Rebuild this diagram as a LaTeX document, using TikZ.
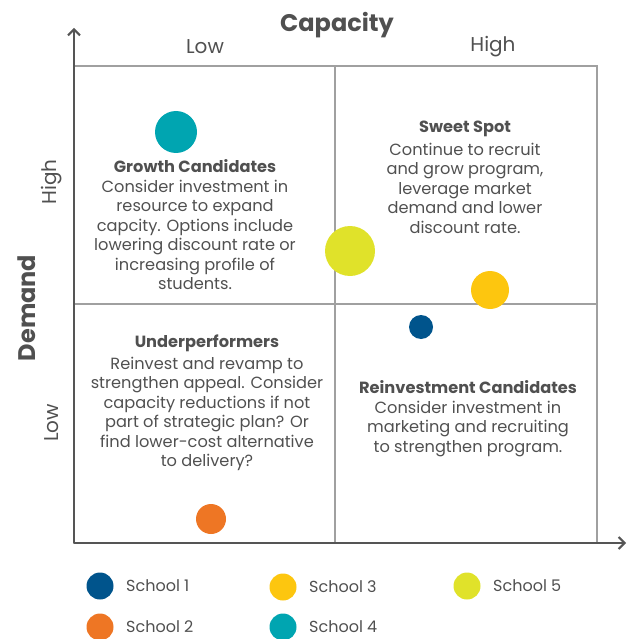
\documentclass[tikz,border=0pt]{standalone}
\usepackage{fontspec}
\setmainfont{Poppins}
\usetikzlibrary{arrows.meta}

\definecolor{schoolone}{RGB}{0,84,140}
\definecolor{schooltwo}{RGB}{238,118,36}
\definecolor{schoolthree}{RGB}{253,198,15}
\definecolor{schoolfour}{RGB}{0,165,177}
\definecolor{schoolfive}{RGB}{224,226,42}
\definecolor{axisgray}{RGB}{85,85,85}
\definecolor{gridgray}{RGB}{160,160,160}
\definecolor{textgray}{RGB}{80,80,80}

\tikzset{
  axis/.style={draw=axisgray, line width=2pt, -{Straight Barb[length=6pt,width=12pt]}},
  grid line/.style={draw=gridgray, line width=1.3pt},
  head/.style={text=textgray, font=\fontsize{16.2}{19}\selectfont\bfseries, inner sep=0pt},
  body/.style={text=textgray, align=center, font=\fontsize{16.2}{19.4}\selectfont, inner sep=0pt, anchor=north},
  tick/.style={text=textgray, font=\fontsize{20}{23}\selectfont, inner sep=0pt},
  dot/.style={circle, inner sep=0pt, minimum size=#1},
  key/.style={text=textgray, font=\fontsize{16}{19}\selectfont, inner sep=0pt, anchor=west}
}

\begin{document}
\begin{tikzpicture}[x=1pt, y=-1pt]
  \useasboundingbox (0,0) rectangle (632,639);

  % quadrant grid
  \draw [grid line] (74,66) rectangle (597,543);
  \draw [grid line] (335,66) -- (335,543);
  \draw [grid line] (74,304) -- (597,304);

  % axes
  \coordinate (origin) at (74,543);
  \coordinate (ytip) at (74,28);
  \coordinate (xtip) at (626,543);
  \draw [axis] (origin) -- (ytip);
  \draw [axis] (origin) -- (xtip);

  % axis labels
  \node [tick, font=\fontsize{24}{28}\selectfont\bfseries] (capacity) at (337,25) {Capacity};
  \node [tick] (caplow) at (205,47) {Low};
  \node [tick] (caphigh) at (493,47) {High};
  \node [tick, rotate=90, font=\fontsize{24}{28}\selectfont\bfseries] (demand) at (27,308) {Demand};
  \node [tick, rotate=90] (demhigh) at (52,182) {High};
  \node [tick, rotate=90] (demlow) at (52,423) {Low};

  % quadrant texts
  \node [head] (growth) at (195,166) {Growth Candidates};
  \node [body] (growthtxt) at (195,180) {Consider investment in\\resource to expand\\capcity. Options include\\lowering discount rate or\\increasing profile of\\students.};

  \node [head] (sweet) at (465,129) {Sweet Spot};
  \node [body] (sweettxt) at (465,143) {Continue to recruit\\and grow program,\\leverage market\\demand and lower\\discount rate.};

  \node [head] (under) at (207,343) {Underperformers};
  \node [body] (undertxt) at (207,357) {Reinvest and revamp to\\strengthen appeal. Consider\\capacity reductions if not\\part of strategic plan? Or\\find lower-cost alternative\\to delivery?};

  \node [head] (reinv) at (468,387) {Reinvestment Candidates};
  \node [body] (reinvtxt) at (468,401) {Consider investment in\\marketing and recruiting\\to strengthen program.};

  % schools
  \node [dot=42pt, fill=schoolfour] (s4) at (176,132) {};
  \node [dot=50pt, fill=schoolfive] (s5) at (350,251) {};
  \node [dot=38pt, fill=schoolthree] (s3) at (490,290) {};
  \node [dot=24pt, fill=schoolone] (s1) at (421,327) {};
  \node [dot=30pt, fill=schooltwo] (s2) at (211,519) {};

  % legend
  \node [dot=27pt, fill=schoolone] (k1) at (100,586) {};
  \node [key] (k1txt) at (126,586) {School 1};
  \node [dot=27pt, fill=schooltwo] (k2) at (100,627) {};
  \node [key] (k2txt) at (126,627) {School 2};
  \node [dot=27pt, fill=schoolthree] (k3) at (283,587) {};
  \node [key] (k3txt) at (309,587) {School 3};
  \node [dot=27pt, fill=schoolfour] (k4) at (283,627) {};
  \node [key] (k4txt) at (309,627) {School 4};
  \node [dot=27pt, fill=schoolfive] (k5) at (467,586) {};
  \node [key] (k5txt) at (493,586) {School 5};
\end{tikzpicture}
\end{document}
